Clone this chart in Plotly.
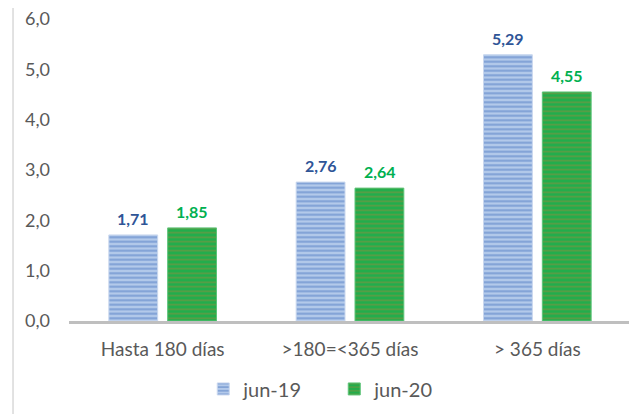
import plotly.graph_objects as go

categories = ["Hasta 180 días", ">180=<365 días", "> 365 días"]
series_names = ["jun-19", "jun-20"]
values_jun19 = [1.71, 2.76, 5.29]
values_jun20 = [1.85, 2.64, 4.55]
y_ticks = [0, 1, 2, 3, 4, 5, 6]

FONT = "Lato, 'Open Sans', sans-serif"
GRAY = "#595959"
BLUE_LBL = "#2F5597"
GREEN_LBL = "#00B050"

fig = go.Figure()
fig.add_trace(go.Bar(
    name=series_names[0], x=categories, y=values_jun19,
    marker=dict(color="#A9C1E6",
                line=dict(color="#C9D7EE", width=1),
                pattern=dict(shape="-", fgcolor="#4A78C0", bgcolor="#B3C9EA",
                             size=4.5, solidity=0.45)),
))
fig.add_trace(go.Bar(
    name=series_names[1], x=categories, y=values_jun20,
    marker=dict(color="#1FA84A",
                line=dict(color="#5CC478", width=1),
                pattern=dict(shape="-", fgcolor="#A08A3C", bgcolor="#22AD4C",
                             size=4.5, solidity=0.35)),
))

annotations = []
for vals, shift, col in [(values_jun19, -29.5, BLUE_LBL), (values_jun20, 29.5, GREEN_LBL)]:
    for c, v in zip(categories, vals):
        annotations.append(dict(
            x=c, y=v, xref="x", yref="y", text="<b>" + f"{v:.2f}".replace(".", ",") + "</b>",
            showarrow=False, xshift=shift, yshift=5, yanchor="bottom",
            font=dict(family=FONT, size=16, color=col),
        ))

fig.update_layout(
    width=629, height=406,
    margin=dict(l=61, r=6, t=11, b=93),
    paper_bgcolor="white", plot_bgcolor="white",
    separators=",.",
    barmode="group", bargap=0.372, bargroupgap=0.17,
    font=dict(family=FONT, color=GRAY),
    showlegend=True,
    legend=dict(orientation="h", x=0.472, xanchor="center", y=-0.225, yanchor="middle",
                font=dict(size=20, color=GRAY), itemwidth=30, entrywidth=86,
                traceorder="normal"),
    annotations=annotations,
    shapes=[dict(type="rect", xref="paper", yref="paper",
                 x0=-0.0996, x1=0.9985, y0=-0.35, y1=1.05,
                 line=dict(color="#D9D9D9", width=1.5), layer="below")],
    xaxis=dict(showline=True, linecolor="#BFBFBF", linewidth=3, showgrid=False,
               automargin=False,
               ticks="", tickfont=dict(size=19, color=GRAY), ticklabelstandoff=9),
    yaxis=dict(range=[0, 6], tickvals=y_ticks, tickformat=".1f", showgrid=False,
               showline=False, zeroline=False, ticks="", ticklabeloverflow="allow",
               automargin=False,
               tickfont=dict(size=18, color=GRAY), ticklabelstandoff=18),
)

fig.write_html("out.html")
